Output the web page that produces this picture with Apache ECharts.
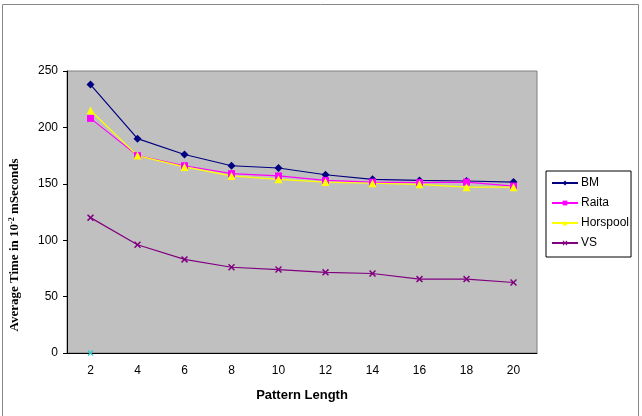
<!DOCTYPE html>
<html>
<head>
<meta charset="utf-8">
<script src="https://cdn.jsdelivr.net/npm/echarts@6/dist/echarts.min.js"></script>
<style>
  html, body { margin: 0; padding: 0; background: #fff; }
  #chart { width: 642px; height: 416px; }
</style>
</head>
<body>
<div id="chart"></div>
<script>
  // 数据
  var patternLength = ['2', '4', '6', '8', '10', '12', '14', '16', '18', '20'];
  var bm       = [238, 190, 176, 166, 164, 158, 154, 153, 152.5, 151.5];
  var raita    = [208, 175, 166, 159, 157, 153, 151.5, 151, 151.5, 148];
  var horspool = [215, 175, 165, 157, 154, 151.5, 150.5, 149.5, 147, 147];
  var vs       = [120, 96, 83, 76, 74, 71.5, 70.5, 65.5, 65.5, 62.5];
  var stray    = [0];

  var crossPath = 'path://M0,1.5L1.5,0L5,3.5L8.5,0L10,1.5L6.5,5L10,8.5L8.5,10L5,6.5L1.5,10L0,8.5L3.5,5Z';

  function line(name, data, color, symbol, size) {
    return {
      name: name,
      type: 'line',
      data: data,
      symbol: symbol,
      symbolSize: size,
      showAllSymbol: true,
      lineStyle: { color: color, width: 1.2 },
      itemStyle: { color: color },
      emphasis: { disabled: true },
      animation: false
    };
  }

  var ec = echarts.init(document.getElementById('chart'));
  ec.setOption({
    animation: false,
    graphic: [{
      type: 'rect',
      shape: { x: 2.5, y: 4.5, width: 636, height: 420 },
      style: { fill: 'none', stroke: '#888', lineWidth: 1 },
      silent: true
    }],
    legend: {
      orient: 'vertical',
      left: 546,
      top: 171,
      width: 86,
      backgroundColor: '#fff',
      borderColor: '#000',
      borderWidth: 1,
      borderRadius: 0,
      padding: [6, 2, 8, 5],
      itemGap: 8,
      itemWidth: 26,
      itemHeight: 6,
      data: ['BM', 'Raita', 'Horspool', 'VS'],
      textStyle: { fontFamily: 'Liberation Sans, Arial', fontSize: 12, color: '#000', padding: [0, 0, 0, -2] }
    },
    grid: {
      left: 67, top: 71, width: 470, height: 282,
      show: true,
      backgroundColor: '#c0c0c0',
      borderColor: '#808080',
      borderWidth: 1
    },
    xAxis: {
      type: 'category',
      data: patternLength,
      boundaryGap: true,
      name: 'Pattern Length',
      nameLocation: 'middle',
      nameGap: 36,
      nameTextStyle: { fontFamily: 'Liberation Sans, Arial', fontSize: 13, fontWeight: 'bold', color: '#000' },
      axisLine: { lineStyle: { color: '#000' } },
      axisTick: { inside: false, length: 4, lineStyle: { color: '#000' } },
      axisLabel: { fontFamily: 'Liberation Sans, Arial', fontSize: 12, color: '#000', margin: 12 }
    },
    yAxis: {
      type: 'value',
      min: 0, max: 250, interval: 50,
      name: '{b|Average Time in 10}{s|-2}{b| mSeconds}',
      nameLocation: 'middle',
      nameGap: 45,
      nameRotate: 90,
      nameTextStyle: {
        padding: [0, 66, 0, 0],
        rich: {
          b: { fontFamily: 'Liberation Serif, Times New Roman', fontSize: 13, fontWeight: 'bold', color: '#000' },
          s: { fontFamily: 'Liberation Serif, Times New Roman', fontSize: 8, fontWeight: 'bold', color: '#000', verticalAlign: 'top', padding: [0, 0, 6, 0] }
        }
      },
      splitLine: { show: false },
      axisLine: { show: true, lineStyle: { color: '#000' } },
      axisTick: { show: true, length: 4, lineStyle: { color: '#000' } },
      axisLabel: { fontFamily: 'Liberation Sans, Arial', fontSize: 12, color: '#000', margin: 9 }
    },
    series: [
      line('BM', bm, '#000080', 'diamond', 8),
      line('Raita', raita, '#ff00ff', 'rect', 7),
      line('Horspool', horspool, '#ffff00', 'triangle', 8),
      line('VS', vs, '#800080', crossPath, 7),
      line('stray', stray, '#33cccc', crossPath, 6)
    ]
  });
</script>
</body>
</html>
